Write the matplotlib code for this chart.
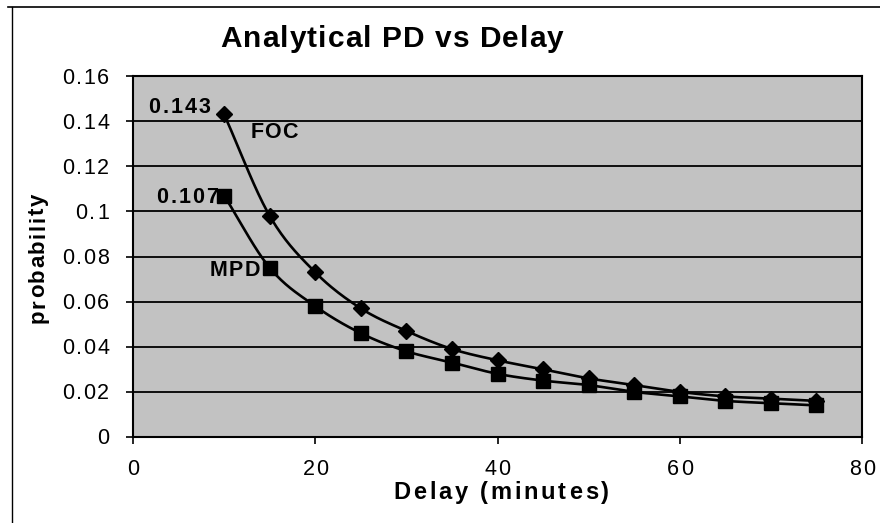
import numpy as np
import matplotlib
matplotlib.use("Agg")
import matplotlib.pyplot as plt
from matplotlib.lines import Line2D
from matplotlib.transforms import IdentityTransform
from matplotlib.font_manager import findfont, FontProperties
from matplotlib.ft2font import FT2Font

# ---- data ----
delay = [10, 15, 20, 25, 30, 35, 40, 45, 50, 55, 60, 65, 70, 75]
foc = [0.143, 0.098, 0.073, 0.057, 0.047, 0.039, 0.034, 0.030, 0.026, 0.023, 0.020, 0.018, 0.017, 0.016]
mpd = [0.107, 0.075, 0.058, 0.046, 0.038, 0.033, 0.028, 0.025, 0.023, 0.020, 0.018, 0.016, 0.015, 0.014]
y_ticks = [0, 0.02, 0.04, 0.06, 0.08, 0.1, 0.12, 0.14, 0.16]
y_tick_labels = ["0", "0.02", "0.04", "0.06", "0.08", "0.1", "0.12", "0.14", "0.16"]
x_ticks = [0, 20, 40, 60, 80]
x_tick_labels = ["0", "20", "40", "60", "80"]
title = "Analytical PD vs Delay"
xlabel = "Delay (minutes)"
ylabel = "probability"

FAMILY = "Liberation Sans"
DPI = 100


def smooth(xs, ys, n=20):
    """Catmull-Rom smoothing used only to draw the connecting line (Excel 'smoothed line')."""
    xs = np.asarray(xs, float)
    ys = np.asarray(ys, float)
    px = np.concatenate([[2 * xs[0] - xs[1]], xs, [2 * xs[-1] - xs[-2]]])
    py = np.concatenate([[2 * ys[0] - ys[1]], ys, [2 * ys[-1] - ys[-2]]])
    ox, oy = [], []
    t = np.linspace(0, 1, n, endpoint=False)
    for i in range(1, len(px) - 2):
        b0 = -0.5 * t**3 + t**2 - 0.5 * t
        b1 = 1.5 * t**3 - 2.5 * t**2 + 1
        b2 = -1.5 * t**3 + 2 * t**2 + 0.5 * t
        b3 = 0.5 * t**3 - 0.5 * t**2
        ox.extend(b0 * px[i - 1] + b1 * px[i] + b2 * px[i + 1] + b3 * px[i + 2])
        oy.extend(b0 * py[i - 1] + b1 * py[i] + b2 * py[i + 1] + b3 * py[i + 2])
    ox.append(xs[-1])
    oy.append(ys[-1])
    return np.array(ox), np.array(oy)


_fonts = {}


def _advances(s, size, weight):
    key = (size, weight)
    if key not in _fonts:
        path = findfont(FontProperties(family=FAMILY, weight=weight))
        f = FT2Font(path)
        f.set_size(size, DPI)
        _fonts[key] = f
    f = _fonts[key]
    out = []
    for c in s:
        g = f.load_char(ord(c))
        out.append(g.linearHoriAdvance / 65536.0)
    return out


def spaced(fig, x, y, s, size, weight="normal", spacing=0.0, ha="left", vertical=False):
    """Draw text with extra letter spacing. x, y in pixels (origin bottom-left), y = baseline."""
    adv = _advances(s, size, weight)
    total = sum(adv) + spacing * (len(s) - 1)
    off = {"left": 0.0, "center": total / 2.0, "right": total}[ha]
    pos = (y if vertical else x) - off
    for c, a in zip(s, adv):
        if c != " ":
            if vertical:
                fig.text(x, pos, c, transform=IdentityTransform(), rotation=90,
                         rotation_mode="anchor", ha="left", va="baseline",
                         fontsize=size, fontweight=weight, family=FAMILY)
            else:
                fig.text(pos, y, c, transform=IdentityTransform(), ha="left",
                         va="baseline", fontsize=size, fontweight=weight, family=FAMILY)
        pos += a + spacing
    return total


plt.rcParams["font.family"] = [FAMILY, "DejaVu Sans"]

W, H = 880, 523
fig = plt.figure(figsize=(W / DPI, H / DPI), dpi=DPI)
fig.patch.set_facecolor("white")

ax = fig.add_axes([133 / W, 1 - 437 / H, (862 - 133) / W, (437 - 76) / H])
ax.set_facecolor("#c2c2c2")

for yt in y_ticks[1:]:
    ax.axhline(yt, color="black", lw=1.3, zorder=1)

sx, sy = smooth(delay, foc)
ax.plot(sx, sy, color="black", lw=1.9, zorder=3)
ax.plot(delay, foc, linestyle="none", marker="D", markersize=8.5, color="black", zorder=4)

mx, my = smooth(delay, mpd)
ax.plot(mx, my, color="black", lw=1.9, zorder=3)
ax.plot(delay, mpd, linestyle="none", marker="s", markersize=10, color="black", zorder=4)

ax.set_xlim(0, 80)
ax.set_ylim(0, 0.16)
ax.set_xticks(x_ticks)
ax.set_yticks(y_ticks)
ax.set_xticklabels([])
ax.set_yticklabels([])
ax.tick_params(axis="both", direction="out", length=5, width=1.2, color="black")
for s in ax.spines.values():
    s.set_color("black")
    s.set_linewidth(1.5)

# tick labels with letter spacing, placed through the axes transform
TICK = 15.5
for v, lab in zip(y_ticks, y_tick_labels):
    px, py = ax.transData.transform((0, v))
    spaced(fig, px - 24, py - 7.5, lab, TICK, spacing=1.8, ha="right")
for v, lab in zip(x_ticks, x_tick_labels):
    px, py = ax.transData.transform((v, 0))
    spaced(fig, px, py - 38, lab, TICK, spacing=1.8, ha="center")

# axis titles
spaced(fig, 501, H - 499, xlabel, 17, weight="bold", spacing=2.8, ha="center")
spaced(fig, 44, H - 258, ylabel, 16, weight="bold", spacing=1.6, ha="center", vertical=True)

# chart title
spaced(fig, 392, H - 47, title, 21.5, weight="bold", spacing=1.1, ha="center")

# point annotations
p = ax.transData.transform((delay[0], foc[0]))
spaced(fig, p[0] - 14, H - 113, "0.143", 15.5, weight="bold", spacing=2.0, ha="right")
spaced(fig, p[0] + 26, H - 137.5, "FOC", 15.5, weight="bold", spacing=1.0, ha="left")
p = ax.transData.transform((delay[0], mpd[0]))
spaced(fig, p[0] - 6, p[1] - 7.5, "0.107", 15.5, weight="bold", spacing=2.0, ha="right")
p = ax.transData.transform((delay[1], mpd[1]))
spaced(fig, p[0] - 10, p[1] - 8, "MPD", 15.5, weight="bold", spacing=1.0, ha="right")

# outer frame (top and left lines of the chart box)
fig.add_artist(Line2D([8 / W, 1], [1 - 7 / H, 1 - 7 / H], color="black", lw=1.2))
fig.add_artist(Line2D([12 / W, 12 / W], [0, 1 - 7 / H], color="black", lw=1.0))

fig.savefig("out.png", dpi=DPI)
